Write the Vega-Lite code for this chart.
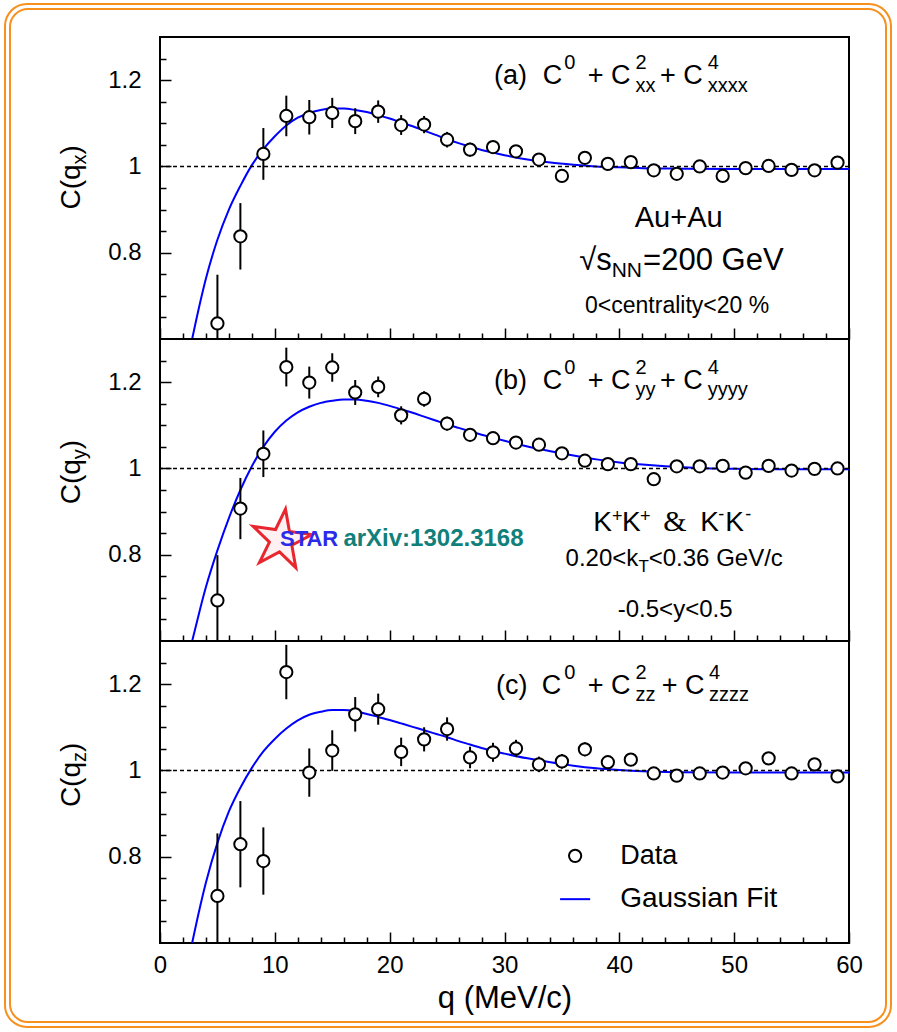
{
  "$schema": "https://vega.github.io/schema/vega-lite/v6.json",
  "padding": {"left": 2, "top": 1, "right": 4, "bottom": 3},
  "spacing": 0,
  "bounds": "flush",
  "datasets": {
    "A": [
      {"q": 5, "C": 0.636, "err": 0.113}, {"q": 7, "C": 0.838, "err": 0.077}, {"q": 9, "C": 1.029, "err": 0.06},
      {"q": 11, "C": 1.117, "err": 0.047}, {"q": 13, "C": 1.114, "err": 0.04}, {"q": 15, "C": 1.124, "err": 0.035},
      {"q": 17, "C": 1.105, "err": 0.03}, {"q": 19, "C": 1.127, "err": 0.026}, {"q": 21, "C": 1.096, "err": 0.023},
      {"q": 23, "C": 1.097, "err": 0.02}, {"q": 25, "C": 1.062, "err": 0.018}, {"q": 27, "C": 1.039, "err": 0.016},
      {"q": 29, "C": 1.045, "err": 0.015}, {"q": 31, "C": 1.035, "err": 0.014}, {"q": 33, "C": 1.016, "err": 0.013},
      {"q": 35, "C": 0.978, "err": 0.012}, {"q": 37, "C": 1.02, "err": 0.012}, {"q": 39, "C": 1.006, "err": 0.011},
      {"q": 41, "C": 1.01, "err": 0.011}, {"q": 43, "C": 0.991, "err": 0.01}, {"q": 45, "C": 0.983, "err": 0.01},
      {"q": 47, "C": 1.0, "err": 0.01}, {"q": 49, "C": 0.978, "err": 0.01}, {"q": 51, "C": 0.996, "err": 0.01},
      {"q": 53, "C": 1.001, "err": 0.01}, {"q": 55, "C": 0.992, "err": 0.01}, {"q": 57, "C": 0.991, "err": 0.01},
      {"q": 59, "C": 1.009, "err": 0.01}
    ],
    "B": [
      {"q": 5, "C": 0.694, "err": 0.105}, {"q": 7, "C": 0.907, "err": 0.071}, {"q": 9, "C": 1.034, "err": 0.054},
      {"q": 11, "C": 1.235, "err": 0.045}, {"q": 13, "C": 1.199, "err": 0.037}, {"q": 15, "C": 1.234, "err": 0.033},
      {"q": 17, "C": 1.176, "err": 0.029}, {"q": 19, "C": 1.189, "err": 0.024}, {"q": 21, "C": 1.123, "err": 0.021},
      {"q": 23, "C": 1.161, "err": 0.018}, {"q": 25, "C": 1.104, "err": 0.016}, {"q": 27, "C": 1.078, "err": 0.013},
      {"q": 29, "C": 1.07, "err": 0.012}, {"q": 31, "C": 1.06, "err": 0.012}, {"q": 33, "C": 1.055, "err": 0.011},
      {"q": 35, "C": 1.035, "err": 0.011}, {"q": 37, "C": 1.018, "err": 0.011}, {"q": 39, "C": 1.01, "err": 0.01},
      {"q": 41, "C": 1.01, "err": 0.01}, {"q": 43, "C": 0.975, "err": 0.01}, {"q": 45, "C": 1.005, "err": 0.01},
      {"q": 47, "C": 1.005, "err": 0.01}, {"q": 49, "C": 1.006, "err": 0.01}, {"q": 51, "C": 0.99, "err": 0.01},
      {"q": 53, "C": 1.006, "err": 0.01}, {"q": 55, "C": 0.995, "err": 0.01}, {"q": 57, "C": 0.999, "err": 0.01},
      {"q": 59, "C": 1.0, "err": 0.01}
    ],
    "Cz": [
      {"q": 5, "C": 0.709, "err": 0.145}, {"q": 7, "C": 0.829, "err": 0.1}, {"q": 9, "C": 0.79, "err": 0.078},
      {"q": 11, "C": 1.228, "err": 0.063}, {"q": 13, "C": 0.995, "err": 0.056}, {"q": 15, "C": 1.046, "err": 0.047},
      {"q": 17, "C": 1.13, "err": 0.04}, {"q": 19, "C": 1.142, "err": 0.036}, {"q": 21, "C": 1.043, "err": 0.033},
      {"q": 23, "C": 1.072, "err": 0.028}, {"q": 25, "C": 1.096, "err": 0.027}, {"q": 27, "C": 1.03, "err": 0.025},
      {"q": 29, "C": 1.042, "err": 0.022}, {"q": 31, "C": 1.051, "err": 0.02}, {"q": 33, "C": 1.014, "err": 0.018},
      {"q": 35, "C": 1.021, "err": 0.017}, {"q": 37, "C": 1.049, "err": 0.016}, {"q": 39, "C": 1.019, "err": 0.015},
      {"q": 41, "C": 1.025, "err": 0.015}, {"q": 43, "C": 0.993, "err": 0.014}, {"q": 45, "C": 0.988, "err": 0.013},
      {"q": 47, "C": 0.993, "err": 0.013}, {"q": 49, "C": 0.995, "err": 0.013}, {"q": 51, "C": 1.005, "err": 0.013},
      {"q": 53, "C": 1.028, "err": 0.013}, {"q": 55, "C": 0.993, "err": 0.013}, {"q": 57, "C": 1.014, "err": 0.013},
      {"q": 59, "C": 0.986, "err": 0.013}
    ],
    "fitA": [
      {"q": 2.8, "C": 0.6}, {"q": 3.5, "C": 0.685}, {"q": 4, "C": 0.74}, {"q": 5, "C": 0.83}, {"q": 6, "C": 0.9},
      {"q": 7, "C": 0.955}, {"q": 8, "C": 1.003}, {"q": 9, "C": 1.04}, {"q": 10, "C": 1.07}, {"q": 11, "C": 1.095},
      {"q": 12, "C": 1.113}, {"q": 13, "C": 1.124}, {"q": 14, "C": 1.131}, {"q": 15, "C": 1.134}, {"q": 16, "C": 1.134},
      {"q": 17, "C": 1.131}, {"q": 18, "C": 1.126}, {"q": 19, "C": 1.119}, {"q": 20, "C": 1.111}, {"q": 21, "C": 1.102},
      {"q": 22, "C": 1.093}, {"q": 23, "C": 1.083}, {"q": 24, "C": 1.073}, {"q": 25, "C": 1.063}, {"q": 26, "C": 1.054},
      {"q": 27, "C": 1.046}, {"q": 28, "C": 1.038}, {"q": 29, "C": 1.032}, {"q": 30, "C": 1.026}, {"q": 32, "C": 1.016},
      {"q": 34, "C": 1.009}, {"q": 36, "C": 1.004}, {"q": 38, "C": 1.0}, {"q": 40, "C": 0.998}, {"q": 42, "C": 0.996},
      {"q": 45, "C": 0.995}, {"q": 50, "C": 0.994}, {"q": 55, "C": 0.994}, {"q": 60, "C": 0.994}
    ],
    "fitB": [
      {"q": 2.8, "C": 0.6}, {"q": 3.5, "C": 0.675}, {"q": 4, "C": 0.725}, {"q": 5, "C": 0.81}, {"q": 6, "C": 0.885},
      {"q": 7, "C": 0.95}, {"q": 8, "C": 1.005}, {"q": 9, "C": 1.05}, {"q": 10, "C": 1.085}, {"q": 11, "C": 1.111},
      {"q": 12, "C": 1.13}, {"q": 13, "C": 1.143}, {"q": 14, "C": 1.152}, {"q": 15, "C": 1.157}, {"q": 16, "C": 1.16},
      {"q": 17, "C": 1.16}, {"q": 18, "C": 1.157}, {"q": 19, "C": 1.152}, {"q": 20, "C": 1.145}, {"q": 21, "C": 1.137},
      {"q": 22, "C": 1.129}, {"q": 23, "C": 1.12}, {"q": 24, "C": 1.111}, {"q": 25, "C": 1.102}, {"q": 26, "C": 1.094},
      {"q": 27, "C": 1.086}, {"q": 28, "C": 1.078}, {"q": 29, "C": 1.071}, {"q": 30, "C": 1.064}, {"q": 32, "C": 1.051},
      {"q": 34, "C": 1.04}, {"q": 36, "C": 1.03}, {"q": 38, "C": 1.021}, {"q": 40, "C": 1.014}, {"q": 42, "C": 1.009},
      {"q": 44, "C": 1.005}, {"q": 46, "C": 1.002}, {"q": 48, "C": 1.0}, {"q": 50, "C": 0.999}, {"q": 55, "C": 0.998},
      {"q": 60, "C": 0.998}
    ],
    "fitC": [
      {"q": 2.8, "C": 0.6}, {"q": 3.5, "C": 0.685}, {"q": 4, "C": 0.74}, {"q": 5, "C": 0.832}, {"q": 6, "C": 0.905},
      {"q": 7, "C": 0.96}, {"q": 8, "C": 1.006}, {"q": 9, "C": 1.044}, {"q": 10, "C": 1.073}, {"q": 11, "C": 1.097},
      {"q": 12, "C": 1.116}, {"q": 13, "C": 1.129}, {"q": 14, "C": 1.136}, {"q": 15, "C": 1.14}, {"q": 16, "C": 1.14},
      {"q": 17, "C": 1.137}, {"q": 18, "C": 1.131}, {"q": 19, "C": 1.124}, {"q": 20, "C": 1.117}, {"q": 21, "C": 1.109},
      {"q": 22, "C": 1.101}, {"q": 23, "C": 1.093}, {"q": 24, "C": 1.085}, {"q": 25, "C": 1.077}, {"q": 26, "C": 1.068},
      {"q": 27, "C": 1.06}, {"q": 28, "C": 1.052}, {"q": 29, "C": 1.045}, {"q": 30, "C": 1.039}, {"q": 32, "C": 1.028},
      {"q": 34, "C": 1.019}, {"q": 36, "C": 1.011}, {"q": 38, "C": 1.005}, {"q": 40, "C": 1.001}, {"q": 42, "C": 0.998},
      {"q": 45, "C": 0.996}, {"q": 50, "C": 0.995}, {"q": 55, "C": 0.995}, {"q": 60, "C": 0.995}
    ]
  },
  "vconcat": [
    {
      "width": 689, "height": 302,
      "resolve": {"axis": {"x": "independent", "y": "independent"}},
      "layer": [
        {"data": {"name": "fitA"}, "mark": {"type": "line", "color": "#0000ff", "strokeWidth": 2, "interpolate": "monotone"},
         "encoding": {
           "x": {"field": "q", "type": "quantitative", "scale": {"domain": [0, 60], "nice": false, "zero": false},
                 "axis": {"orient": "bottom", "values": [0, 10, 20, 30, 40, 50, 60], "labels": false, "title": null, "tickSize": -11}},
           "y": {"field": "C", "type": "quantitative", "scale": {"domain": [0.6, 1.3], "nice": false, "zero": false},
                 "axis": {"orient": "left", "values": [0.8, 1, 1.2], "format": "~g", "title": null, "tickSize": -11, "labelPadding": 30}}
         }},
        {"data": {"values": [{}]}, "mark": {"type": "rule", "color": "black", "strokeWidth": 1.5, "strokeDash": [4, 3]},
         "encoding": {"y": {"datum": 1, "type": "quantitative", "axis": null}}},
        {"data": {"name": "A"}, "mark": {"type": "errorbar", "ticks": false, "thickness": 2, "color": "black", "clip": true},
         "encoding": {"x": {"field": "q", "type": "quantitative", "axis": null}, "y": {"field": "C", "type": "quantitative", "axis": null}, "yError": {"field": "err"}}},
        {"data": {"name": "A"}, "mark": {"type": "point", "shape": "circle", "filled": true, "fill": "white", "stroke": "black", "strokeWidth": 2, "size": 150, "opacity": 1},
         "encoding": {
           "x": {"field": "q", "type": "quantitative", "axis": {"orient": "bottom", "values": [2,4,6,8,12,14,16,18,22,24,26,28,32,34,36,38,42,44,46,48,52,54,56,58], "labels": false, "title": null, "tickSize": -6}},
           "y": {"field": "C", "type": "quantitative", "axis": {"orient": "left", "values": [0.65,0.7,0.75,0.85,0.9,0.95,1.05,1.1,1.15,1.25], "labels": false, "title": null, "tickSize": -6}}
         }},
        {"data": {"values": [{}]}, "mark": {"type": "rect", "filled": false, "color": "#f7901e", "strokeWidth": 2, "cornerRadius": 22},
         "encoding": {"x": {"datum": -13.498, "type": "quantitative", "axis": null}, "x2": {"datum": 63.658}, "y": {"datum": 1.3765, "type": "quantitative", "axis": null}, "y2": {"datum": -0.9947}}},
        {"data": {"values": [{}]}, "mark": {"type": "rect", "filled": false, "color": "#f7901e", "strokeWidth": 2, "cornerRadius": 18},
         "encoding": {"x": {"datum": -13.063, "type": "quantitative", "axis": null}, "x2": {"datum": 63.223}, "y": {"datum": 1.3649, "type": "quantitative", "axis": null}, "y2": {"datum": -0.9831}}},
        {"data": {"values": [{}]}, "mark": {"type": "text", "text": "(a)", "fontSize": 27, "align": "left"}, "encoding": {"x": {"datum": 29.09, "type": "quantitative", "axis": null}, "y": {"datum": 1.19, "type": "quantitative", "axis": null}}},
        {"data": {"values": [{}]}, "mark": {"type": "text", "text": "C", "fontSize": 27, "align": "left"}, "encoding": {"x": {"datum": 33.34, "type": "quantitative", "axis": null}, "y": {"datum": 1.19, "type": "quantitative", "axis": null}}},
        {"data": {"values": [{}]}, "mark": {"type": "text", "text": "0", "fontSize": 20, "align": "left", "dy": -15}, "encoding": {"x": {"datum": 35.2, "type": "quantitative", "axis": null}, "y": {"datum": 1.19, "type": "quantitative", "axis": null}}},
        {"data": {"values": [{}]}, "mark": {"type": "text", "text": "+ C", "fontSize": 27, "align": "left"}, "encoding": {"x": {"datum": 37.25, "type": "quantitative", "axis": null}, "y": {"datum": 1.19, "type": "quantitative", "axis": null}}},
        {"data": {"values": [{}]}, "mark": {"type": "text", "text": "2", "fontSize": 20, "align": "left", "dy": -15}, "encoding": {"x": {"datum": 41.4, "type": "quantitative", "axis": null}, "y": {"datum": 1.19, "type": "quantitative", "axis": null}}},
        {"data": {"values": [{}]}, "mark": {"type": "text", "text": "xx", "fontSize": 20, "align": "left", "dy": 7.5}, "encoding": {"x": {"datum": 41.4, "type": "quantitative", "axis": null}, "y": {"datum": 1.19, "type": "quantitative", "axis": null}}},
        {"data": {"values": [{}]}, "mark": {"type": "text", "text": "+ C", "fontSize": 27, "align": "left"}, "encoding": {"x": {"datum": 43.55, "type": "quantitative", "axis": null}, "y": {"datum": 1.19, "type": "quantitative", "axis": null}}},
        {"data": {"values": [{}]}, "mark": {"type": "text", "text": "4", "fontSize": 20, "align": "left", "dy": -15}, "encoding": {"x": {"datum": 47.7, "type": "quantitative", "axis": null}, "y": {"datum": 1.19, "type": "quantitative", "axis": null}}},
        {"data": {"values": [{}]}, "mark": {"type": "text", "text": "xxxx", "fontSize": 20, "align": "left", "dy": 7.5}, "encoding": {"x": {"datum": 47.7, "type": "quantitative", "axis": null}, "y": {"datum": 1.19, "type": "quantitative", "axis": null}}},
        {"data": {"values": [{}]}, "mark": {"type": "text", "text": "Au+Au", "fontSize": 29, "align": "center"}, "encoding": {"x": {"datum": 45.17, "type": "quantitative", "axis": null}, "y": {"datum": 0.8604, "type": "quantitative", "axis": null}}},
        {"data": {"values": [{}]}, "mark": {"type": "text", "text": "√s", "fontSize": 31, "align": "left"}, "encoding": {"x": {"datum": 36.5, "type": "quantitative", "axis": null}, "y": {"datum": 0.76, "type": "quantitative", "axis": null}}},
        {"data": {"values": [{}]}, "mark": {"type": "text", "text": "NN", "fontSize": 21, "align": "left", "dy": 6.7}, "encoding": {"x": {"datum": 39.33, "type": "quantitative", "axis": null}, "y": {"datum": 0.76, "type": "quantitative", "axis": null}}},
        {"data": {"values": [{}]}, "mark": {"type": "text", "text": "=200 GeV", "fontSize": 31, "align": "left"}, "encoding": {"x": {"datum": 42.07, "type": "quantitative", "axis": null}, "y": {"datum": 0.76, "type": "quantitative", "axis": null}}},
        {"data": {"values": [{}]}, "mark": {"type": "text", "text": "0<centrality<20 %", "fontSize": 23, "align": "center"}, "encoding": {"x": {"datum": 45.03, "type": "quantitative", "axis": null}, "y": {"datum": 0.661, "type": "quantitative", "axis": null}}},
        {"data": {"values": [{}]}, "mark": {"type": "text", "text": "C(q", "fontSize": 28, "align": "left", "angle": 270}, "encoding": {"x": {"datum": -6.97, "type": "quantitative", "axis": null}, "y": {"datum": 0.9, "type": "quantitative", "axis": null}}},
        {"data": {"values": [{}]}, "mark": {"type": "text", "text": "x", "fontSize": 20, "align": "left", "angle": 270, "dx": 45.1, "dy": 6}, "encoding": {"x": {"datum": -6.97, "type": "quantitative", "axis": null}, "y": {"datum": 0.9, "type": "quantitative", "axis": null}}},
        {"data": {"values": [{}]}, "mark": {"type": "text", "text": ")", "fontSize": 28, "align": "left", "angle": 270, "dx": 55.1}, "encoding": {"x": {"datum": -6.97, "type": "quantitative", "axis": null}, "y": {"datum": 0.9, "type": "quantitative", "axis": null}}}
      ]
    },
    {
      "width": 689, "height": 302,
      "resolve": {"axis": {"x": "independent", "y": "independent"}},
      "layer": [
        {"data": {"name": "fitB"}, "mark": {"type": "line", "color": "#0000ff", "strokeWidth": 2, "interpolate": "monotone"},
         "encoding": {
           "x": {"field": "q", "type": "quantitative", "scale": {"domain": [0, 60], "nice": false, "zero": false},
                 "axis": {"orient": "bottom", "values": [0, 10, 20, 30, 40, 50, 60], "labels": false, "title": null, "tickSize": -11}},
           "y": {"field": "C", "type": "quantitative", "scale": {"domain": [0.6, 1.3], "nice": false, "zero": false},
                 "axis": {"orient": "left", "values": [0.8, 1, 1.2], "format": "~g", "title": null, "tickSize": -11, "labelPadding": 30}}
         }},
        {"data": {"values": [{}]}, "mark": {"type": "rule", "color": "black", "strokeWidth": 1.5, "strokeDash": [4, 3]},
         "encoding": {"y": {"datum": 1, "type": "quantitative", "axis": null}}},
        {"data": {"name": "B"}, "mark": {"type": "errorbar", "ticks": false, "thickness": 2, "color": "black", "clip": true},
         "encoding": {"x": {"field": "q", "type": "quantitative", "axis": null}, "y": {"field": "C", "type": "quantitative", "axis": null}, "yError": {"field": "err"}}},
        {"data": {"name": "B"}, "mark": {"type": "point", "shape": "circle", "filled": true, "fill": "white", "stroke": "black", "strokeWidth": 2, "size": 150, "opacity": 1},
         "encoding": {
           "x": {"field": "q", "type": "quantitative", "axis": {"orient": "bottom", "values": [2,4,6,8,12,14,16,18,22,24,26,28,32,34,36,38,42,44,46,48,52,54,56,58], "labels": false, "title": null, "tickSize": -6}},
           "y": {"field": "C", "type": "quantitative", "axis": {"orient": "left", "values": [0.65,0.7,0.75,0.85,0.9,0.95,1.05,1.1,1.15,1.25], "labels": false, "title": null, "tickSize": -6}}
         }},
        {"data": {"values": [{}]}, "mark": {"type": "text", "text": "(b)", "fontSize": 27, "align": "left"}, "encoding": {"x": {"datum": 29.09, "type": "quantitative", "axis": null}, "y": {"datum": 1.1847, "type": "quantitative", "axis": null}}},
        {"data": {"values": [{}]}, "mark": {"type": "text", "text": "C", "fontSize": 27, "align": "left"}, "encoding": {"x": {"datum": 33.34, "type": "quantitative", "axis": null}, "y": {"datum": 1.1847, "type": "quantitative", "axis": null}}},
        {"data": {"values": [{}]}, "mark": {"type": "text", "text": "0", "fontSize": 20, "align": "left", "dy": -15}, "encoding": {"x": {"datum": 35.2, "type": "quantitative", "axis": null}, "y": {"datum": 1.1847, "type": "quantitative", "axis": null}}},
        {"data": {"values": [{}]}, "mark": {"type": "text", "text": "+ C", "fontSize": 27, "align": "left"}, "encoding": {"x": {"datum": 37.25, "type": "quantitative", "axis": null}, "y": {"datum": 1.1847, "type": "quantitative", "axis": null}}},
        {"data": {"values": [{}]}, "mark": {"type": "text", "text": "2", "fontSize": 20, "align": "left", "dy": -15}, "encoding": {"x": {"datum": 41.4, "type": "quantitative", "axis": null}, "y": {"datum": 1.1847, "type": "quantitative", "axis": null}}},
        {"data": {"values": [{}]}, "mark": {"type": "text", "text": "yy", "fontSize": 20, "align": "left", "dy": 7.5}, "encoding": {"x": {"datum": 41.4, "type": "quantitative", "axis": null}, "y": {"datum": 1.1847, "type": "quantitative", "axis": null}}},
        {"data": {"values": [{}]}, "mark": {"type": "text", "text": "+ C", "fontSize": 27, "align": "left"}, "encoding": {"x": {"datum": 43.55, "type": "quantitative", "axis": null}, "y": {"datum": 1.1847, "type": "quantitative", "axis": null}}},
        {"data": {"values": [{}]}, "mark": {"type": "text", "text": "4", "fontSize": 20, "align": "left", "dy": -15}, "encoding": {"x": {"datum": 47.7, "type": "quantitative", "axis": null}, "y": {"datum": 1.1847, "type": "quantitative", "axis": null}}},
        {"data": {"values": [{}]}, "mark": {"type": "text", "text": "yyyy", "fontSize": 20, "align": "left", "dy": 7.5}, "encoding": {"x": {"datum": 47.7, "type": "quantitative", "axis": null}, "y": {"datum": 1.1847, "type": "quantitative", "axis": null}}},
        {"data": {"values": [{}]}, "mark": {"type": "text", "text": "K", "fontSize": 28, "align": "left"}, "encoding": {"x": {"datum": 37.72, "type": "quantitative", "axis": null}, "y": {"datum": 0.855, "type": "quantitative", "axis": null}}},
        {"data": {"values": [{}]}, "mark": {"type": "text", "text": "+", "fontSize": 18, "align": "left", "dy": -9}, "encoding": {"x": {"datum": 39.37, "type": "quantitative", "axis": null}, "y": {"datum": 0.855, "type": "quantitative", "axis": null}}},
        {"data": {"values": [{}]}, "mark": {"type": "text", "text": "K", "fontSize": 28, "align": "left"}, "encoding": {"x": {"datum": 40.24, "type": "quantitative", "axis": null}, "y": {"datum": 0.855, "type": "quantitative", "axis": null}}},
        {"data": {"values": [{}]}, "mark": {"type": "text", "text": "+", "fontSize": 18, "align": "left", "dy": -9}, "encoding": {"x": {"datum": 41.81, "type": "quantitative", "axis": null}, "y": {"datum": 0.855, "type": "quantitative", "axis": null}}},
        {"data": {"values": [{}]}, "mark": {"type": "text", "text": "&", "fontSize": 30, "font": "Liberation Serif", "align": "left"}, "encoding": {"x": {"datum": 43.82, "type": "quantitative", "axis": null}, "y": {"datum": 0.855, "type": "quantitative", "axis": null}}},
        {"data": {"values": [{}]}, "mark": {"type": "text", "text": "K", "fontSize": 28, "align": "left"}, "encoding": {"x": {"datum": 47.04, "type": "quantitative", "axis": null}, "y": {"datum": 0.855, "type": "quantitative", "axis": null}}},
        {"data": {"values": [{}]}, "mark": {"type": "text", "text": "-", "fontSize": 18, "align": "left", "dy": -11}, "encoding": {"x": {"datum": 48.61, "type": "quantitative", "axis": null}, "y": {"datum": 0.855, "type": "quantitative", "axis": null}}},
        {"data": {"values": [{}]}, "mark": {"type": "text", "text": "K", "fontSize": 28, "align": "left"}, "encoding": {"x": {"datum": 49.22, "type": "quantitative", "axis": null}, "y": {"datum": 0.855, "type": "quantitative", "axis": null}}},
        {"data": {"values": [{}]}, "mark": {"type": "text", "text": "-", "fontSize": 18, "align": "left", "dy": -11}, "encoding": {"x": {"datum": 50.96, "type": "quantitative", "axis": null}, "y": {"datum": 0.855, "type": "quantitative", "axis": null}}},
        {"data": {"values": [{}]}, "mark": {"type": "text", "text": "0.20<k", "fontSize": 24, "align": "left"}, "encoding": {"x": {"datum": 35.32, "type": "quantitative", "axis": null}, "y": {"datum": 0.774, "type": "quantitative", "axis": null}}},
        {"data": {"values": [{}]}, "mark": {"type": "text", "text": "T", "fontSize": 17, "align": "left", "dy": 6}, "encoding": {"x": {"datum": 41.66, "type": "quantitative", "axis": null}, "y": {"datum": 0.774, "type": "quantitative", "axis": null}}},
        {"data": {"values": [{}]}, "mark": {"type": "text", "text": "<0.36 GeV/c", "fontSize": 24, "align": "left"}, "encoding": {"x": {"datum": 42.56, "type": "quantitative", "axis": null}, "y": {"datum": 0.774, "type": "quantitative", "axis": null}}},
        {"data": {"values": [{}]}, "mark": {"type": "text", "text": "-0.5<y<0.5", "fontSize": 24, "align": "center"}, "encoding": {"x": {"datum": 44.86, "type": "quantitative", "axis": null}, "y": {"datum": 0.6546, "type": "quantitative", "axis": null}}},
        {"data": {"values": [{}]}, "mark": {"type": "point", "shape": "M0,-1L0.2245,-0.309L0.951,-0.309L0.363,0.118L0.588,0.809L0,0.382L-0.588,0.809L-0.363,0.118L-0.951,-0.309L-0.2245,-0.309Z", "size": 3900, "angle": 8, "filled": true, "fill": "#fff0f2", "stroke": "#e8262e", "strokeWidth": 3, "opacity": 1}, "encoding": {"x": {"datum": 10.55, "type": "quantitative", "axis": null}, "y": {"datum": 0.834, "type": "quantitative", "axis": null}}},
        {"data": {"values": [{}]}, "mark": {"type": "text", "text": "STAR", "fontSize": 22, "fontWeight": "bold", "color": "#2b2bea", "align": "left"}, "encoding": {"x": {"datum": 10.45, "type": "quantitative", "axis": null}, "y": {"datum": 0.8204, "type": "quantitative", "axis": null}}},
        {"data": {"values": [{}]}, "mark": {"type": "text", "text": "arXiv:1302.3168", "fontSize": 24, "fontWeight": "bold", "color": "#11807a", "align": "left"}, "encoding": {"x": {"datum": 15.97, "type": "quantitative", "axis": null}, "y": {"datum": 0.8204, "type": "quantitative", "axis": null}}},
        {"data": {"values": [{}]}, "mark": {"type": "text", "text": "C(q", "fontSize": 28, "align": "left", "angle": 270}, "encoding": {"x": {"datum": -6.97, "type": "quantitative", "axis": null}, "y": {"datum": 0.917, "type": "quantitative", "axis": null}}},
        {"data": {"values": [{}]}, "mark": {"type": "text", "text": "y", "fontSize": 20, "align": "left", "angle": 270, "dx": 45.1, "dy": 6}, "encoding": {"x": {"datum": -6.97, "type": "quantitative", "axis": null}, "y": {"datum": 0.917, "type": "quantitative", "axis": null}}},
        {"data": {"values": [{}]}, "mark": {"type": "text", "text": ")", "fontSize": 28, "align": "left", "angle": 270, "dx": 55.1}, "encoding": {"x": {"datum": -6.97, "type": "quantitative", "axis": null}, "y": {"datum": 0.917, "type": "quantitative", "axis": null}}}
      ]
    },
    {
      "width": 689, "height": 302,
      "resolve": {"axis": {"x": "independent", "y": "independent"}},
      "layer": [
        {"data": {"name": "fitC"}, "mark": {"type": "line", "color": "#0000ff", "strokeWidth": 2, "interpolate": "monotone"},
         "encoding": {
           "x": {"field": "q", "type": "quantitative", "scale": {"domain": [0, 60], "nice": false, "zero": false},
                 "axis": {"orient": "bottom", "values": [0, 10, 20, 30, 40, 50, 60], "format": "d", "title": "q (MeV/c)", "tickSize": -11, "labelPadding": 21,
                          "titleFontSize": 31, "titleFontWeight": "normal", "titlePadding": 6}},
           "y": {"field": "C", "type": "quantitative", "scale": {"domain": [0.6, 1.3], "nice": false, "zero": false},
                 "axis": {"orient": "left", "values": [0.8, 1, 1.2], "format": "~g", "title": null, "tickSize": -11, "labelPadding": 30}}
         }},
        {"data": {"values": [{}]}, "mark": {"type": "rule", "color": "black", "strokeWidth": 1.5, "strokeDash": [4, 3]},
         "encoding": {"y": {"datum": 1, "type": "quantitative", "axis": null}}},
        {"data": {"name": "Cz"}, "mark": {"type": "errorbar", "ticks": false, "thickness": 2, "color": "black", "clip": true},
         "encoding": {"x": {"field": "q", "type": "quantitative", "axis": null}, "y": {"field": "C", "type": "quantitative", "axis": null}, "yError": {"field": "err"}}},
        {"data": {"name": "Cz"}, "mark": {"type": "point", "shape": "circle", "filled": true, "fill": "white", "stroke": "black", "strokeWidth": 2, "size": 150, "opacity": 1},
         "encoding": {
           "x": {"field": "q", "type": "quantitative", "axis": {"orient": "bottom", "values": [2,4,6,8,12,14,16,18,22,24,26,28,32,34,36,38,42,44,46,48,52,54,56,58], "labels": false, "title": null, "tickSize": -6}},
           "y": {"field": "C", "type": "quantitative", "axis": {"orient": "left", "values": [0.65,0.7,0.75,0.85,0.9,0.95,1.05,1.1,1.15,1.25], "labels": false, "title": null, "tickSize": -6}}
         }},
        {"data": {"values": [{}]}, "mark": {"type": "point", "shape": "circle", "filled": true, "fill": "white", "stroke": "black", "strokeWidth": 2, "size": 150, "opacity": 1}, "encoding": {"x": {"datum": 36.15, "type": "quantitative", "axis": null}, "y": {"datum": 0.802, "type": "quantitative", "axis": null}}},
        {"data": {"values": [{}]}, "mark": {"type": "text", "text": "Data", "fontSize": 27, "align": "left"}, "encoding": {"x": {"datum": 40.07, "type": "quantitative", "axis": null}, "y": {"datum": 0.7826, "type": "quantitative", "axis": null}}},
        {"data": {"values": [{}]}, "mark": {"type": "rule", "color": "#0000ff", "strokeWidth": 2}, "encoding": {"x": {"datum": 34.84, "type": "quantitative", "axis": null}, "x2": {"datum": 37.46}, "y": {"datum": 0.7016, "type": "quantitative", "axis": null}}},
        {"data": {"values": [{}]}, "mark": {"type": "text", "text": "Gaussian Fit", "fontSize": 28, "align": "left"}, "encoding": {"x": {"datum": 40.07, "type": "quantitative", "axis": null}, "y": {"datum": 0.6831, "type": "quantitative", "axis": null}}},
        {"data": {"values": [{}]}, "mark": {"type": "text", "text": "(c)", "fontSize": 27, "align": "left"}, "encoding": {"x": {"datum": 29.27, "type": "quantitative", "axis": null}, "y": {"datum": 1.1778, "type": "quantitative", "axis": null}}},
        {"data": {"values": [{}]}, "mark": {"type": "text", "text": "C", "fontSize": 27, "align": "left"}, "encoding": {"x": {"datum": 33.25, "type": "quantitative", "axis": null}, "y": {"datum": 1.1778, "type": "quantitative", "axis": null}}},
        {"data": {"values": [{}]}, "mark": {"type": "text", "text": "0", "fontSize": 20, "align": "left", "dy": -15}, "encoding": {"x": {"datum": 35.2, "type": "quantitative", "axis": null}, "y": {"datum": 1.1778, "type": "quantitative", "axis": null}}},
        {"data": {"values": [{}]}, "mark": {"type": "text", "text": "+ C", "fontSize": 27, "align": "left"}, "encoding": {"x": {"datum": 37.25, "type": "quantitative", "axis": null}, "y": {"datum": 1.1778, "type": "quantitative", "axis": null}}},
        {"data": {"values": [{}]}, "mark": {"type": "text", "text": "2", "fontSize": 20, "align": "left", "dy": -15}, "encoding": {"x": {"datum": 41.4, "type": "quantitative", "axis": null}, "y": {"datum": 1.1778, "type": "quantitative", "axis": null}}},
        {"data": {"values": [{}]}, "mark": {"type": "text", "text": "zz", "fontSize": 20, "align": "left", "dy": 7.5}, "encoding": {"x": {"datum": 41.4, "type": "quantitative", "axis": null}, "y": {"datum": 1.1778, "type": "quantitative", "axis": null}}},
        {"data": {"values": [{}]}, "mark": {"type": "text", "text": "+ C", "fontSize": 27, "align": "left"}, "encoding": {"x": {"datum": 43.7, "type": "quantitative", "axis": null}, "y": {"datum": 1.1778, "type": "quantitative", "axis": null}}},
        {"data": {"values": [{}]}, "mark": {"type": "text", "text": "4", "fontSize": 20, "align": "left", "dy": -15}, "encoding": {"x": {"datum": 47.8, "type": "quantitative", "axis": null}, "y": {"datum": 1.1778, "type": "quantitative", "axis": null}}},
        {"data": {"values": [{}]}, "mark": {"type": "text", "text": "zzzz", "fontSize": 20, "align": "left", "dy": 7.5}, "encoding": {"x": {"datum": 47.8, "type": "quantitative", "axis": null}, "y": {"datum": 1.1778, "type": "quantitative", "axis": null}}},
        {"data": {"values": [{}]}, "mark": {"type": "text", "text": "C(q", "fontSize": 28, "align": "left", "angle": 270}, "encoding": {"x": {"datum": -6.97, "type": "quantitative", "axis": null}, "y": {"datum": 0.915, "type": "quantitative", "axis": null}}},
        {"data": {"values": [{}]}, "mark": {"type": "text", "text": "z", "fontSize": 20, "align": "left", "angle": 270, "dx": 45.1, "dy": 6}, "encoding": {"x": {"datum": -6.97, "type": "quantitative", "axis": null}, "y": {"datum": 0.915, "type": "quantitative", "axis": null}}},
        {"data": {"values": [{}]}, "mark": {"type": "text", "text": ")", "fontSize": 28, "align": "left", "angle": 270, "dx": 55.1}, "encoding": {"x": {"datum": -6.97, "type": "quantitative", "axis": null}, "y": {"datum": 0.915, "type": "quantitative", "axis": null}}}
      ]
    }
  ],
  "config": {
    "font": "Liberation Sans",
    "view": {"stroke": "black", "strokeWidth": 2},
    "text": {"color": "black", "font": "Liberation Sans", "baseline": "alphabetic"},
    "axis": {"grid": false, "domain": false, "tickColor": "black", "tickWidth": 1.5,
             "labelColor": "black", "labelFontSize": 24, "labelFont": "Liberation Sans", "labelFlush": false,
             "titleColor": "black", "titleFont": "Liberation Sans"}
  }
}
